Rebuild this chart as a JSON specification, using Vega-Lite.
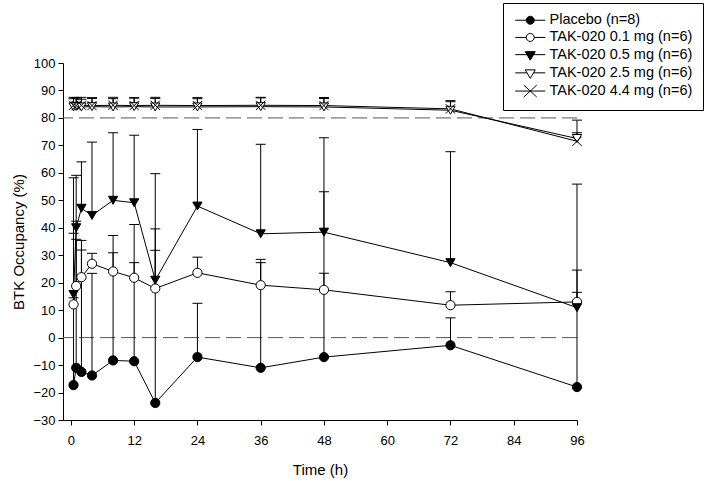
{
  "$schema": "https://vega.github.io/schema/vega-lite/v6.json",
  "width": 514,
  "height": 357,
  "autosize": {"type": "none"},
  "padding": {"left": 63, "top": 63, "right": 132, "bottom": 61},
  "background": "white",
  "config": {
    "view": {"stroke": null},
    "font": "Liberation Sans",
    "axis": {
      "domainColor": "black", "tickColor": "black", "labelColor": "black", "titleColor": "black",
      "labelFont": "Liberation Sans", "titleFont": "Liberation Sans",
      "labelFontSize": 13, "titleFontSize": 15, "titleFontWeight": "normal",
      "grid": false, "tickSize": 5, "domainWidth": 1, "tickWidth": 1, "labelOverlap": false, "labelSeparation": 0
    },
    "axisY": {"labelOverlap": false},
    "axisQuantitative": {"labelOverlap": false}
  },
  "datasets": {
    "d": [
      {"g": "Placebo (n=8)", "t": 0.5, "m": -17.3, "u": 14.5},
      {"g": "Placebo (n=8)", "t": 1, "m": -11.0, "u": 35.8},
      {"g": "Placebo (n=8)", "t": 2, "m": -12.5, "u": 31.9},
      {"g": "Placebo (n=8)", "t": 4, "m": -13.8, "u": 23.4},
      {"g": "Placebo (n=8)", "t": 8, "m": -8.3, "u": 30.9},
      {"g": "Placebo (n=8)", "t": 12, "m": -8.6, "u": 27.3},
      {"g": "Placebo (n=8)", "t": 16, "m": -23.8, "u": 39.6},
      {"g": "Placebo (n=8)", "t": 24, "m": -7.1, "u": 12.5},
      {"g": "Placebo (n=8)", "t": 36, "m": -11.0, "u": 27.3},
      {"g": "Placebo (n=8)", "t": 48, "m": -7.1, "u": 23.4},
      {"g": "Placebo (n=8)", "t": 72, "m": -2.8, "u": 7.2},
      {"g": "Placebo (n=8)", "t": 96, "m": -18.0, "u": 16.5},
      {"g": "TAK-020 0.1 mg (n=6)", "t": 0.5, "m": 12.1, "u": 38.0},
      {"g": "TAK-020 0.1 mg (n=6)", "t": 1, "m": 18.8, "u": 42.4},
      {"g": "TAK-020 0.1 mg (n=6)", "t": 2, "m": 22.0, "u": 35.4},
      {"g": "TAK-020 0.1 mg (n=6)", "t": 4, "m": 26.9, "u": 30.7},
      {"g": "TAK-020 0.1 mg (n=6)", "t": 8, "m": 24.1, "u": 37.2},
      {"g": "TAK-020 0.1 mg (n=6)", "t": 12, "m": 21.8, "u": 41.2},
      {"g": "TAK-020 0.1 mg (n=6)", "t": 16, "m": 17.9, "u": 31.8},
      {"g": "TAK-020 0.1 mg (n=6)", "t": 24, "m": 23.6, "u": 29.3},
      {"g": "TAK-020 0.1 mg (n=6)", "t": 36, "m": 19.1, "u": 28.5},
      {"g": "TAK-020 0.1 mg (n=6)", "t": 48, "m": 17.4, "u": 53.1},
      {"g": "TAK-020 0.1 mg (n=6)", "t": 72, "m": 11.8, "u": 16.7},
      {"g": "TAK-020 0.1 mg (n=6)", "t": 96, "m": 13.0, "u": 24.6},
      {"g": "TAK-020 0.5 mg (n=6)", "t": 0.5, "m": 15.7, "u": 58.2},
      {"g": "TAK-020 0.5 mg (n=6)", "t": 1, "m": 40.0, "u": 59.1},
      {"g": "TAK-020 0.5 mg (n=6)", "t": 2, "m": 47.1, "u": 64.0},
      {"g": "TAK-020 0.5 mg (n=6)", "t": 4, "m": 44.5, "u": 71.2},
      {"g": "TAK-020 0.5 mg (n=6)", "t": 8, "m": 50.0, "u": 74.6},
      {"g": "TAK-020 0.5 mg (n=6)", "t": 12, "m": 49.1, "u": 73.7},
      {"g": "TAK-020 0.5 mg (n=6)", "t": 16, "m": 20.9, "u": 59.7},
      {"g": "TAK-020 0.5 mg (n=6)", "t": 24, "m": 47.9, "u": 75.8},
      {"g": "TAK-020 0.5 mg (n=6)", "t": 36, "m": 37.8, "u": 70.4},
      {"g": "TAK-020 0.5 mg (n=6)", "t": 48, "m": 38.4, "u": 72.8},
      {"g": "TAK-020 0.5 mg (n=6)", "t": 72, "m": 27.3, "u": 67.7},
      {"g": "TAK-020 0.5 mg (n=6)", "t": 96, "m": 10.9, "u": 55.9},
      {"g": "TAK-020 2.5 mg (n=6)", "t": 0.5, "m": 84.0, "u": 87.0},
      {"g": "TAK-020 2.5 mg (n=6)", "t": 1, "m": 84.2, "u": 87.2},
      {"g": "TAK-020 2.5 mg (n=6)", "t": 2, "m": 84.0, "u": 86.8},
      {"g": "TAK-020 2.5 mg (n=6)", "t": 4, "m": 84.1, "u": 87.1},
      {"g": "TAK-020 2.5 mg (n=6)", "t": 8, "m": 84.0, "u": 87.0},
      {"g": "TAK-020 2.5 mg (n=6)", "t": 12, "m": 84.1, "u": 87.2},
      {"g": "TAK-020 2.5 mg (n=6)", "t": 16, "m": 84.0, "u": 87.1},
      {"g": "TAK-020 2.5 mg (n=6)", "t": 24, "m": 84.0, "u": 87.0},
      {"g": "TAK-020 2.5 mg (n=6)", "t": 36, "m": 84.1, "u": 87.3},
      {"g": "TAK-020 2.5 mg (n=6)", "t": 48, "m": 84.0, "u": 87.1},
      {"g": "TAK-020 2.5 mg (n=6)", "t": 72, "m": 82.8, "u": 85.9},
      {"g": "TAK-020 2.5 mg (n=6)", "t": 96, "m": 72.5, "u": 74.6},
      {"g": "TAK-020 4.4 mg (n=6)", "t": 0.5, "m": 84.6, "u": 87.5},
      {"g": "TAK-020 4.4 mg (n=6)", "t": 1, "m": 84.5, "u": 87.4},
      {"g": "TAK-020 4.4 mg (n=6)", "t": 2, "m": 84.6, "u": 87.5},
      {"g": "TAK-020 4.4 mg (n=6)", "t": 4, "m": 84.5, "u": 87.4},
      {"g": "TAK-020 4.4 mg (n=6)", "t": 8, "m": 84.6, "u": 87.5},
      {"g": "TAK-020 4.4 mg (n=6)", "t": 12, "m": 84.5, "u": 87.4},
      {"g": "TAK-020 4.4 mg (n=6)", "t": 16, "m": 84.6, "u": 87.5},
      {"g": "TAK-020 4.4 mg (n=6)", "t": 24, "m": 84.5, "u": 87.4},
      {"g": "TAK-020 4.4 mg (n=6)", "t": 36, "m": 84.6, "u": 87.5},
      {"g": "TAK-020 4.4 mg (n=6)", "t": 48, "m": 84.5, "u": 87.4},
      {"g": "TAK-020 4.4 mg (n=6)", "t": 72, "m": 83.3, "u": 86.3},
      {"g": "TAK-020 4.4 mg (n=6)", "t": 96, "m": 71.5, "u": 79.2}
    ],
    "ref": [{"v": 0}, {"v": 80}]
  },
  "resolve": {"scale": {"shape": "independent", "fill": "independent"}},
  "layer": [
    {
      "data": {"name": "ref"},
      "mark": {"type": "rule", "strokeDash": [15, 6], "color": "#555555", "strokeWidth": 1},
      "encoding": {
        "y": {"field": "v", "type": "quantitative", "scale": {"domain": [-30, 100], "nice": false, "zero": false},
              "axis": {"title": "BTK Occupancy (%)", "values": [-30, -20, -10, 0, 10, 20, 30, 40, 50, 60, 70, 80, 90, 100], "labelPadding": 3, "titlePadding": 6, "labelOverlap": false, "labelSeparation": 0, "labelFontSize": 13, "titleFontSize": 15}}
      }
    },
    {
      "data": {"name": "d"},
      "mark": {"type": "rule", "color": "black", "strokeWidth": 1},
      "encoding": {
        "x": {"field": "t", "type": "quantitative", "scale": {"domain": [-1.5, 96], "nice": false, "zero": false},
              "axis": {"title": "Time (h)", "values": [0, 6, 12, 18, 24, 30, 36, 42, 48, 54, 60, 66, 72, 78, 84, 90, 96], "labelExpr": "datum.value % 12 === 0 ? datum.label : ''", "labelPadding": 9, "titlePadding": 15, "labelFlush": false, "labelOverlap": false, "labelFontSize": 13, "titleFontSize": 15}},
        "y": {"field": "m", "type": "quantitative",
              "axis": {"title": "BTK Occupancy (%)", "values": [-30, -20, -10, 0, 10, 20, 30, 40, 50, 60, 70, 80, 90, 100], "labelPadding": 3, "titlePadding": 6, "labelOverlap": false, "labelSeparation": 0, "labelFontSize": 13, "titleFontSize": 15}},
        "y2": {"field": "u"}
      }
    },
    {
      "data": {"name": "d"},
      "mark": {"type": "tick", "orient": "horizontal", "size": 10, "thickness": 1, "color": "black", "opacity": 1},
      "encoding": {
        "x": {"field": "t", "type": "quantitative", "title": "Time (h)"},
        "y": {"field": "u", "type": "quantitative",
              "axis": {"title": "BTK Occupancy (%)", "values": [-30, -20, -10, 0, 10, 20, 30, 40, 50, 60, 70, 80, 90, 100], "labelPadding": 3, "titlePadding": 6, "labelOverlap": false, "labelSeparation": 0, "labelFontSize": 13, "titleFontSize": 15}}
      }
    },
    {
      "data": {"name": "d"},
      "mark": {"type": "line", "color": "black", "strokeWidth": 1},
      "encoding": {
        "x": {"field": "t", "type": "quantitative", "title": "Time (h)"},
        "y": {"field": "m", "type": "quantitative",
              "axis": {"title": "BTK Occupancy (%)", "values": [-30, -20, -10, 0, 10, 20, 30, 40, 50, 60, 70, 80, 90, 100], "labelPadding": 3, "titlePadding": 6, "labelOverlap": false, "labelSeparation": 0, "labelFontSize": 13, "titleFontSize": 15}},
        "detail": {"field": "g", "type": "nominal"}
      }
    },
    {
      "data": {"name": "d"},
      "mark": {"type": "point", "filled": true, "stroke": "black", "strokeWidth": 1, "opacity": 1, "size": 85},
      "encoding": {
        "x": {"field": "t", "type": "quantitative", "title": "Time (h)"},
        "y": {"field": "m", "type": "quantitative",
              "axis": {"title": "BTK Occupancy (%)", "values": [-30, -20, -10, 0, 10, 20, 30, 40, 50, 60, 70, 80, 90, 100], "labelPadding": 3, "titlePadding": 6, "labelOverlap": false, "labelSeparation": 0, "labelFontSize": 13, "titleFontSize": 15}},
        "shape": {
          "field": "g", "type": "nominal",
          "scale": {
            "domain": ["Placebo (n=8)", "TAK-020 0.1 mg (n=6)", "TAK-020 0.5 mg (n=6)", "TAK-020 2.5 mg (n=6)", "TAK-020 4.4 mg (n=6)"],
            "range": ["circle", "circle", "triangle-down", "triangle-down", "M-1,-1L1,1M-1,1L1,-1"]
          },
          "legend": null
        },
        "fill": {
          "field": "g", "type": "nominal",
          "scale": {
            "domain": ["Placebo (n=8)", "TAK-020 0.1 mg (n=6)", "TAK-020 0.5 mg (n=6)", "TAK-020 2.5 mg (n=6)", "TAK-020 4.4 mg (n=6)"],
            "range": ["black", "white", "black", "white", "transparent"]
          },
          "legend": null
        }
      }
    },
    {
      "data": {"name": "d"},
      "mark": {"type": "point", "filled": true, "stroke": "black", "strokeWidth": 1, "opacity": 1, "size": 0},
      "encoding": {
        "x": {"field": "t", "type": "quantitative", "title": "Time (h)"},
        "y": {"field": "m", "type": "quantitative",
              "axis": {"title": "BTK Occupancy (%)", "values": [-30, -20, -10, 0, 10, 20, 30, 40, 50, 60, 70, 80, 90, 100], "labelPadding": 3, "titlePadding": 6, "labelOverlap": false, "labelSeparation": 0, "labelFontSize": 13, "titleFontSize": 15}},
        "shape": {
          "field": "g", "type": "nominal",
          "scale": {
            "domain": ["Placebo (n=8)", "TAK-020 0.1 mg (n=6)", "TAK-020 0.5 mg (n=6)", "TAK-020 2.5 mg (n=6)", "TAK-020 4.4 mg (n=6)"],
            "range": ["M-1,0H5M2.8,0A0.8,0.8,0,1,1,1.2,0A0.8,0.8,0,1,1,2.8,0Z", "M-1,0H1.2M2.8,0H5M2.8,0A0.8,0.8,0,1,1,1.2,0A0.8,0.8,0,1,1,2.8,0Z", "M-1,0H5M1,-0.6H3L2,1.1Z", "M-1,0H1.35M2.65,0H5M1,-0.6H3L2,1.1Z", "M-1,0H5M0.7,-1.2L3.3,1.2M0.7,1.2L3.3,-1.2"]
          },
          "legend": {
            "title": null, "orient": "none", "legendX": 440, "legendY": -60, "padding": 10,
            "strokeColor": "black", "fillColor": "white", "symbolSize": 100, "symbolStrokeWidth": 1,
            "labelFont": "Liberation Sans", "labelFontSize": 14.5, "labelColor": "black", "labelOffset": 22,
            "rowPadding": 2.2, "labelLimit": 300
          }
        },
        "fill": {
          "field": "g", "type": "nominal",
          "scale": {
            "domain": ["Placebo (n=8)", "TAK-020 0.1 mg (n=6)", "TAK-020 0.5 mg (n=6)", "TAK-020 2.5 mg (n=6)", "TAK-020 4.4 mg (n=6)"],
            "range": ["black", "white", "black", "white", "transparent"]
          },
          "legend": {
            "title": null, "orient": "none", "legendX": 440, "legendY": -60, "padding": 10,
            "strokeColor": "black", "fillColor": "white", "symbolSize": 100, "symbolStrokeWidth": 1,
            "labelFont": "Liberation Sans", "labelFontSize": 14.5, "labelColor": "black", "labelOffset": 22,
            "rowPadding": 2.2, "labelLimit": 300
          }
        }
      }
    }
  ]
}
